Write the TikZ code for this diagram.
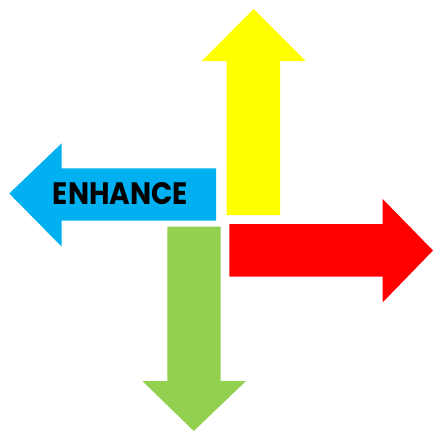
\documentclass[tikz,border=0pt]{standalone}
\usepackage{fontspec}
\setmainfont{Poppins}
\definecolor{ayellow}{HTML}{FFFF00}
\definecolor{ablue}{HTML}{00B0F0}
\definecolor{ared}{HTML}{FF0000}
\definecolor{agreen}{HTML}{92D050}
\tikzset{arrowshape/.style={draw=none}}
\begin{document}
\begin{tikzpicture}[x=1pt,y=-1pt]
\useasboundingbox (0,0) rectangle (433,431);
% yellow up
\fill[ayellow,arrowshape] (226.7,215) -- (226.7,61) -- (202,61) -- (253.5,9) -- (305.5,61) -- (280,61) -- (280,215) -- cycle;
% blue left
\fill[ablue,arrowshape] (216,168.3) -- (61.7,168.3) -- (61.7,143.3) -- (9.3,193.5) -- (61.7,246.7) -- (61.7,220.7) -- (216,220.7) -- cycle;
% red right
\fill[ared,arrowshape] (229.3,224) -- (382.7,224) -- (382.7,199) -- (433,250.5) -- (382.7,302.3) -- (382.7,276.7) -- (229.3,276.7) -- cycle;
% green down
\fill[agreen,arrowshape] (167.3,226.7) -- (167.3,381) -- (142.3,381) -- (193.8,431) -- (246,381) -- (220.7,381) -- (220.7,226.7) -- cycle;
\node[inner sep=0pt, anchor=center] (enh) at (120.5,193.8) {\resizebox{135pt}{22pt}{\bfseries ENHANCE}};
\end{tikzpicture}
\end{document}
